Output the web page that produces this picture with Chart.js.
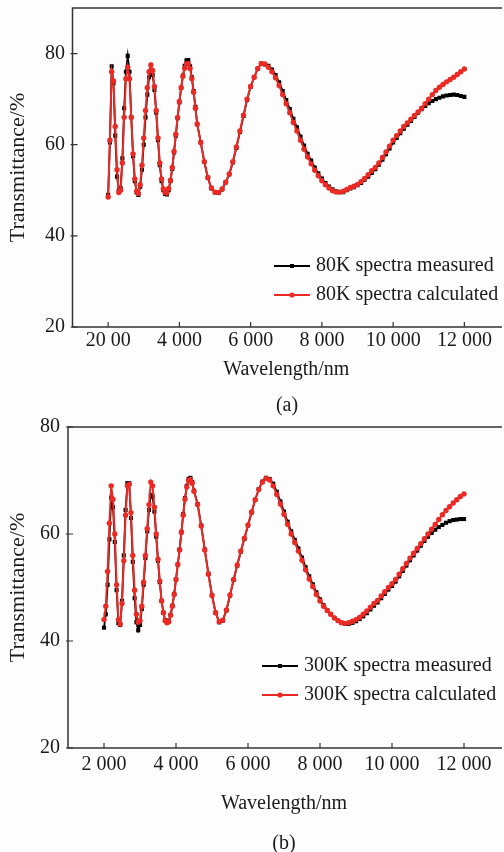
<!DOCTYPE html>
<html>
<head>
<meta charset="utf-8">
<script src="https://cdn.jsdelivr.net/npm/chart.js@4.4.1/dist/chart.umd.min.js"></script>
<style>
  body { margin: 0; background: #fdfdfd; }
  #wrap { position: relative; width: 504px; height: 852px; overflow: hidden;
          font-family: "Liberation Serif", "Times New Roman", serif; color: #1a1a1a; }
  canvas { position: absolute; left: 0; }
  #chartA { top: 0; }
  #chartB { top: 410px; }
  .cap { position: absolute; font-size: 20px; line-height: 20px; transform: translate(-50%, -50%); white-space: nowrap; }
</style>
</head>
<body>
<div id="wrap">
  <canvas id="chartA" width="504" height="420"></canvas>
  <canvas id="chartB" width="504" height="442"></canvas>
  <div class="cap" style="left:287px; top:404px;">(a)</div>
  <div class="cap" style="left:284px; top:842px;">(b)</div>
</div>
<script>
// longueurs d'onde (nm) : pas de 50 jusqu'a 4500, puis pas de 100
const wavelength = [
  2000,2050,2100,2150,2200,2250,2300,2350,2400,2450,
  2500,2550,2600,2650,2700,2750,2800,2850,2900,2950,
  3000,3050,3100,3150,3200,3250,3300,3350,3400,3450,
  3500,3550,3600,3650,3700,3750,3800,3850,3900,3950,
  4000,4050,4100,4150,4200,4250,4300,4350,4400,4450,
  4500,
  4600,4700,4800,4900,5000,5100,5200,5300,5400,5500,
  5600,5700,5800,5900,6000,6100,6200,6300,6400,6500,
  6600,6700,6800,6900,7000,7100,7200,7300,7400,7500,
  7600,7700,7800,7900,8000,8100,8200,8300,8400,8500,
  8600,8700,8800,8900,9000,9100,9200,9300,9400,9500,
  9600,9700,9800,9900,10000,10100,10200,10300,10400,10500,
  10600,10700,10800,10900,11000,11100,11200,11300,11400,11500,
  11600,11700,11800,11900,12000
];

// (a) 80K
const measured80 = [
  49,60.5,77.2,73.5,62,53,50,50.5,57,68,
  76,79.5,76,66,57.5,52,49.5,49,50.8,54.5,
  60,66,71,74.8,76.3,75.3,72,67,61,55.5,
  52,50,49.2,49.1,50,52,54.7,58.3,62,65.8,
  69.3,72.5,75.2,77.3,78.5,78.6,77.2,74.8,71.8,68.3,
  64.6,
  60.5,56.2,52.7,50.4,49.5,49.4,50.2,51.7,53.5,56.1,
  59.3,62.8,66.3,69.8,72.7,74.8,76.7,77.8,77.6,77.3,
  76.5,75.3,73.7,71.8,69.8,67.8,65.7,63.8,61.8,59.8,
  58.0,56.5,55.0,53.7,52.6,51.6,50.8,50.2,49.8,49.6,
  49.6,50.0,50.4,50.7,51.1,51.6,52.3,53.0,53.8,54.6,
  55.6,56.7,57.9,59.2,60.5,61.5,62.5,63.5,64.4,65.2,
  66.1,67.0,67.8,68.5,69.1,69.6,70.0,70.3,70.6,70.8,
  70.9,71.0,70.9,70.7,70.5
];
const calculated80 = [
  48.5,61,76,74,64,54.5,49.5,50,56,66,
  74.5,77,74.5,66,58,52.5,49.8,49.3,51.2,55.5,
  61.5,67.5,72.5,76,77.5,76.3,72.8,67.5,61.5,56,
  52.5,50.3,49.5,49.4,50.4,52.2,55,58.5,62.3,66,
  69.5,72.5,75,76.8,77.7,77.8,76.7,74.5,71.5,68,
  64.5,
  60.5,56.3,52.8,50.5,49.6,49.5,50.3,51.8,53.6,56.3,
  59.5,63,66.5,70,72.8,74.8,76.7,77.8,77.7,77,
  76,74.7,73,71,69,67,64.9,63,61,59,
  57.3,55.8,54.4,53.2,52.1,51.2,50.5,49.9,49.6,49.6,
  49.8,50.2,50.6,50.9,51.3,51.9,52.6,53.4,54.3,55.0,
  56.0,57.2,58.4,59.7,61.0,62.0,63.0,64.0,64.8,65.6,
  66.4,67.2,68.0,69.0,70.0,71.0,71.9,72.6,73.2,73.8,
  74.3,74.8,75.4,76.0,76.6
];

// (b) 300K
const measured300 = [
  42.5,45,50.5,59,66.8,65,58.5,49.5,43.3,43,
  47.5,56,64.5,69.5,69.5,63,54.8,48,43.5,42,
  43,46,50.5,55.5,60.5,64.5,67.3,67,64.2,59.5,
  55,51,47.5,45.3,43.9,43.6,43.8,44.9,46.6,48.8,
  51.5,54.3,57.1,60.4,63.7,66.7,69.0,70.3,70.5,69.7,
  68.1,
  65.6,61.6,57.1,52.6,48.6,45.3,43.5,43.8,45.7,48.5,
  51.4,54.1,56.7,59.1,61.6,64.0,66.4,68.4,69.8,70.5,
  70.3,69.4,67.9,66.1,64.2,62.3,60.5,58.9,57.3,55.6,
  53.8,52.1,50.6,49.1,47.8,46.7,45.8,45.0,44.3,43.8,
  43.4,43.2,43.2,43.4,43.7,44.1,44.6,45.2,45.9,46.6,
  47.2,48.0,48.8,49.6,50.3,51.1,52.1,53.1,54.1,55.1,
  56.0,56.9,57.8,58.7,59.5,60.2,60.8,61.3,61.7,62.1,
  62.4,62.6,62.7,62.8,62.8
];
const calculated300 = [
  44,46.5,53,62,69,66.5,60,50.5,44,43.2,
  47,55,63.5,69,69.3,64,56,49.5,45,43.5,
  43.8,46.5,51,56,61,65.5,69.7,69,65,60,
  55.3,51.2,47.5,45.3,43.8,43.4,43.6,44.8,46.5,48.7,
  51.5,54.3,57,60.3,63.5,66.5,68.8,70,70.2,69.5,
  68,
  65.5,61.5,57,52.5,48.5,45.3,43.6,43.9,45.8,48.6,
  51.5,54.2,56.8,59.2,61.7,64.1,66.4,68.3,69.7,70.4,
  70.1,69.0,67.4,65.6,63.7,61.8,60.0,58.4,56.8,55.1,
  53.3,51.6,50.2,48.7,47.5,46.5,45.7,45.0,44.3,43.8,
  43.4,43.3,43.4,43.7,44.0,44.4,45.0,45.6,46.3,47.0,
  47.6,48.4,49.2,50.0,50.7,51.5,52.5,53.5,54.5,55.5,
  56.4,57.3,58.2,59.1,60.0,60.9,61.8,62.7,63.6,64.4,
  65.1,65.8,66.4,67.0,67.5
];

// graduations
const xTicks = [2000, 4000, 6000, 8000, 10000, 12000];
const xTickLabelsA = ["20 00", "4 000", "6 000", "8 000", "10 000", "12 000"];
const xTickLabelsB = ["2 000", "4 000", "6 000", "8 000", "10 000", "12 000"];
const yTicks = [20, 40, 60, 80];

const serif = '"Liberation Serif", "Times New Roman", serif';
const textColor = '#1a1a1a';
const red = '#ea2a24';

// cadre (haut, gauche, bas) + graduations vers l'interieur
const framePlugin = {
  id: 'frame',
  afterDraw(chart) {
    const { ctx, chartArea: a, scales } = chart;
    ctx.save();
    ctx.strokeStyle = '#333';
    ctx.lineWidth = 1.5;
    ctx.beginPath();
    ctx.moveTo(a.right + 2, a.top);
    ctx.lineTo(a.left, a.top);
    ctx.lineTo(a.left, a.bottom);
    ctx.lineTo(a.right + 2, a.bottom);
    ctx.stroke();
    ctx.lineWidth = 1.2;
    ctx.beginPath();
    scales.x.ticks.forEach(t => {
      const x = scales.x.getPixelForValue(t.value);
      ctx.moveTo(x, a.bottom);
      ctx.lineTo(x, a.bottom - 5);
    });
    scales.y.ticks.forEach(t => {
      const y = scales.y.getPixelForValue(t.value);
      ctx.moveTo(a.left - 2, y);
      ctx.lineTo(a.left + 5, y);
    });
    ctx.stroke();
    ctx.restore();
  }
};

// legende dans la zone du graphique
const innerLegend = {
  id: 'innerLegend',
  afterDraw(chart, args, o) {
    const ctx = chart.ctx;
    ctx.save();
    ctx.font = '20px ' + serif;
    ctx.textBaseline = 'middle';
    chart.data.datasets.forEach((ds, i) => {
      const y = o.y + i * o.gap;
      const cx = o.x + o.len / 2;
      ctx.strokeStyle = ds.borderColor;
      ctx.lineWidth = 2;
      ctx.beginPath();
      ctx.moveTo(o.x, y);
      ctx.lineTo(o.x + o.len, y);
      ctx.stroke();
      ctx.fillStyle = ds.borderColor;
      if (ds.pointStyle === 'rect') {
        ctx.fillRect(cx - 2, y - 2, 4, 4);
      } else {
        ctx.beginPath();
        ctx.arc(cx, y, 2.6, 0, Math.PI * 2);
        ctx.fill();
      }
      ctx.fillStyle = textColor;
      ctx.fillText(ds.label, o.x + o.len + 6, y);
    });
    ctx.restore();
  }
};

function points(arr) {
  return wavelength.map((w, i) => ({ x: w, y: arr[i] }));
}

function makeChart(id, cfg) {
  const font = { family: serif, size: 20 };
  new Chart(document.getElementById(id), {
    type: 'line',
    data: {
      datasets: [
        {
          label: cfg.labels[0],
          data: points(cfg.measured),
          borderColor: '#000',
          backgroundColor: '#000',
          borderWidth: 1.8,
          pointStyle: 'rect',
          pointRadius: 2.9,
          pointBorderWidth: 0,
          pointBackgroundColor: '#000',
          order: 2
        },
        {
          label: cfg.labels[1],
          data: points(cfg.calculated),
          borderColor: red,
          backgroundColor: red,
          borderWidth: 2,
          pointStyle: 'circle',
          pointRadius: 2.7,
          pointBorderWidth: 0,
          pointBackgroundColor: red,
          order: 1
        }
      ]
    },
    options: {
      responsive: false,
      animation: false,
      layout: { padding: { top: cfg.top, left: 0, right: 0, bottom: 0 } },
      plugins: {
        legend: { display: false },
        tooltip: { enabled: false },
        innerLegend: cfg.legend
      },
      scales: {
        x: {
          type: 'linear',
          min: 1000,
          max: 13000,
          afterBuildTicks: s => { s.ticks = xTicks.map(v => ({ value: v })); },
          afterFit: s => { s.height = cfg.xHeight; s.paddingLeft = 0; s.paddingRight = 0; },
          grid: { display: false, drawTicks: false },
          border: { display: false },
          ticks: {
            font: font, color: textColor, padding: cfg.xPad,
            maxRotation: 0, autoSkip: false,
            callback: (v, i) => cfg.xLabels[i]
          },
          title: {
            display: true, text: 'Wavelength/nm', font: font, color: textColor,
            padding: { top: 0, bottom: cfg.xTitlePad }
          }
        },
        y: {
          min: 20,
          max: cfg.yMax,
          afterBuildTicks: s => { s.ticks = yTicks.map(v => ({ value: v })); },
          afterFit: s => { s.width = cfg.yWidth; s.paddingTop = 0; s.paddingBottom = 0; },
          grid: { display: false, drawTicks: false },
          border: { display: false },
          ticks: { font: font, color: textColor, padding: cfg.yPad },
          title: {
            display: true, text: 'Transmittance/%', font: { family: serif, size: 22 }, color: textColor,
            padding: { top: 5.5, bottom: 0 }
          }
        }
      }
    },
    plugins: [framePlugin, innerLegend]
  });
}

makeChart('chartA', {
  measured: measured80, calculated: calculated80,
  labels: ['80K spectra measured', '80K spectra calculated'],
  xLabels: xTickLabelsA, yMax: 90,
  top: 8, xHeight: 93, yWidth: 72.5, xPad: 2, yPad: 7.5, xTitlePad: 38,
  legend: { x: 274, y: 266, gap: 29, len: 36 }
});

// canvas (b) commence a 410 px : zone du graphique de 427 a 748 dans la page
makeChart('chartB', {
  measured: measured300, calculated: calculated300,
  labels: ['300K spectra measured', '300K spectra calculated'],
  xLabels: xTickLabelsB, yMax: 80,
  top: 17, xHeight: 104, yWidth: 68, xPad: 5, yPad: 8, xTitlePad: 36,
  legend: { x: 262, y: 256, gap: 29, len: 36 }
});
</script>
</body>
</html>
